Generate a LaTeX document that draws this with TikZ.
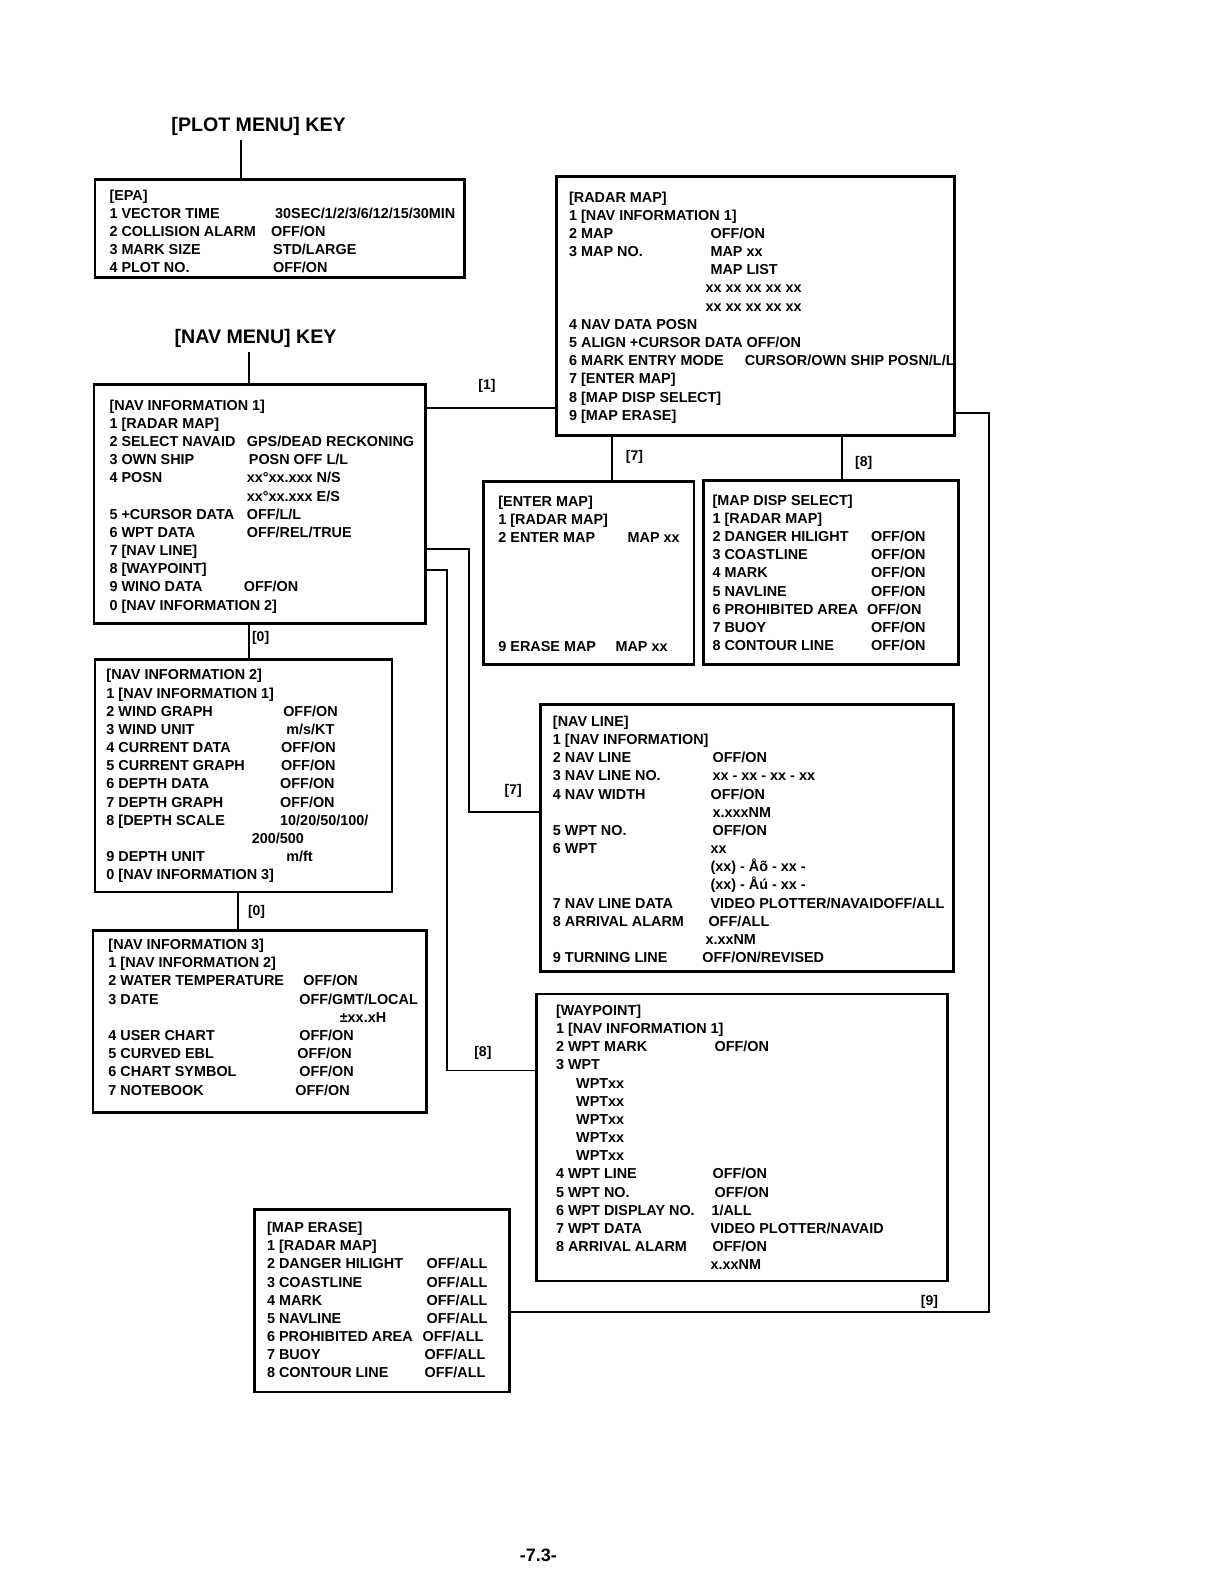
\documentclass[tikz,border=0pt]{standalone}
\usepackage{fontspec}
\setmainfont{Liberation Sans}
\usepackage{tikz}
\usetikzlibrary{positioning,calc,fit}

\newdimen\unitpx
\unitpx=0.505pt
\newlength\valcol
\newcommand\mrow[2]{\makebox[\valcol][l]{#1}#2}

\tikzset{
  menubox/.style={draw=black, line width=1.4pt, inner sep=0pt},
  menutext/.style={anchor=base west, inner sep=0pt,
    font=\bfseries\fontsize{7.2}{9.09}\selectfont},
  keytitle/.style={font=\bfseries\fontsize{9.8}{12}\selectfont, inner sep=2pt},
  link/.style={line width=0.9pt},
  linklabel/.style={font=\bfseries\fontsize{7}{8}\selectfont, inner sep=1pt}
}

\begin{document}
\begin{tikzpicture}[x=0.505pt, y=-0.505pt]
\fill[white] (0,0) rectangle (1212,1568);
\useasboundingbox (0,0) rectangle (1212,1568);

% key titles
\node[keytitle] (plotkey) at (256,125) {[PLOT MENU] KEY};
\node[keytitle] (navkey) at (253,335) {[NAV MENU] KEY};

% menu frames
\node[menubox, fit={(94,178) (460,275)}] (epa) {};
\node[menubox, fit={(93,381) (421,617)}] (nav1) {};
\node[menubox, fit={(551,175) (945,431)}] (radar) {};
\node[menubox, fit={(479,477) (687,658)}] (enter) {};
\node[menubox, fit={(696,476) (949,658)}] (disp) {};
\node[menubox, fit={(94,653) (388,883)}] (nav2) {};
\node[menubox, fit={(92,921) (422,1101)}] (nav3) {};
\node[menubox, fit={(535,697) (944,962)}] (navline) {};
\node[menubox, fit={(531,984) (938,1268)}] (wpt) {};
\node[menubox, fit={(252,1197) (504,1378)}] (erase) {};

% menu contents
\node[menutext] (epa-t) at (108,198) {\setlength\valcol{164\unitpx}%
\begin{tabular}[t]{@{}l@{}}
{[EPA]}\\
\mrow{1 VECTOR TIME}{30SEC/1/2/3/6/12/15/30MIN}\\
\mrow{2 COLLISION ALARM}{\hspace*{-4\unitpx}OFF/ON}\\
\mrow{3 MARK SIZE}{\hspace*{-2\unitpx}STD/LARGE}\\
\mrow{4 PLOT NO.}{\hspace*{-2\unitpx}OFF/ON}
\end{tabular}};

\node[menutext] (nav1-t) at (108,406) {\setlength\valcol{136\unitpx}%
\begin{tabular}[t]{@{}l@{}}
{[NAV INFORMATION 1]}\\
1 [RADAR MAP]\\
\mrow{2 SELECT NAVAID}{GPS/DEAD RECKONING}\\
\mrow{3 OWN SHIP}{\hspace*{2\unitpx}POSN OFF L/L}\\
\mrow{4 POSN}{xx°xx.xxx N/S}\\
\mrow{}{xx°xx.xxx E/S}\\
\mrow{5 +CURSOR DATA}{OFF/L/L}\\
\mrow{6 WPT DATA}{OFF/REL/TRUE}\\
7 [NAV LINE]\\
8 [WAYPOINT]\\
\mrow{9 WINO DATA}{\hspace*{-3\unitpx}OFF/ON}\\
0 [NAV INFORMATION 2]
\end{tabular}};

\node[menutext] (radar-t) at (563,200) {\setlength\valcol{140\unitpx}%
\begin{tabular}[t]{@{}l@{}}
{[RADAR MAP]}\\
1 [NAV INFORMATION 1]\\
\mrow{2 MAP}{OFF/ON}\\
\mrow{3 MAP NO.}{MAP xx}\\
\mrow{}{MAP LIST}\\
\mrow{}{\hspace*{-5\unitpx}xx xx xx xx xx}\\
\mrow{}{\hspace*{-5\unitpx}xx xx xx xx xx}\\
4 NAV DATA POSN\\
5 ALIGN +CURSOR DATA OFF/ON\\
\makebox[174\unitpx][l]{6 MARK ENTRY MODE}CURSOR/OWN SHIP POSN/L/L\\
7 [ENTER MAP]\\
8 [MAP DISP SELECT]\\
9 [MAP ERASE]
\end{tabular}};

\node[menutext] (enter-t) at (493,501) {\setlength\valcol{128\unitpx}%
\begin{tabular}[t]{@{}l@{}}
{[ENTER MAP]}\\
1 [RADAR MAP]\\
\mrow{2 ENTER MAP}{MAP xx}\\
\\
\\
\\
\\
\\
\makebox[116\unitpx][l]{9 ERASE MAP}MAP xx
\end{tabular}};

\node[menutext] (disp-t) at (705,500) {\setlength\valcol{157\unitpx}%
\begin{tabular}[t]{@{}l@{}}
{[MAP DISP SELECT]}\\
1 [RADAR MAP]\\
\mrow{2 DANGER HILIGHT}{OFF/ON}\\
\mrow{3 COASTLINE}{OFF/ON}\\
\mrow{4 MARK}{OFF/ON}\\
\mrow{5 NAVLINE}{OFF/ON}\\
\mrow{6 PROHIBITED AREA}{\hspace*{-4\unitpx}OFF/ON}\\
\mrow{7 BUOY}{OFF/ON}\\
\mrow{8 CONTOUR LINE}{OFF/ON}
\end{tabular}};

\node[menutext] (nav2-t) at (105,673) {\setlength\valcol{175\unitpx}%
\begin{tabular}[t]{@{}l@{}}
{[NAV INFORMATION 2]}\\
1 [NAV INFORMATION 1]\\
\mrow{2 WIND GRAPH}{OFF/ON}\\
\mrow{3 WIND UNIT}{\hspace*{3\unitpx}m/s/KT}\\
\mrow{4 CURRENT DATA}{\hspace*{-2\unitpx}OFF/ON}\\
\mrow{5 CURRENT GRAPH}{\hspace*{-2\unitpx}OFF/ON}\\
\mrow{6 DEPTH DATA}{\hspace*{-3\unitpx}OFF/ON}\\
\mrow{7 DEPTH GRAPH}{\hspace*{-3\unitpx}OFF/ON}\\
\mrow{8 [DEPTH SCALE}{\hspace*{-3\unitpx}10/20/50/100/}\\
\hspace*{144\unitpx}200/500\\
\mrow{9 DEPTH UNIT}{\hspace*{3\unitpx}m/ft}\\
0 [NAV INFORMATION 3]
\end{tabular}};

\node[menutext] (nav3-t) at (107,940) {\setlength\valcol{189\unitpx}%
\begin{tabular}[t]{@{}l@{}}
{[NAV INFORMATION 3]}\\
1 [NAV INFORMATION 2]\\
\mrow{2 WATER TEMPERATURE}{\hspace*{4\unitpx}OFF/ON}\\
\mrow{3 DATE}{OFF/GMT/LOCAL}\\
\hspace*{229\unitpx}±xx.xH\\
\mrow{4 USER CHART}{OFF/ON}\\
\mrow{5 CURVED EBL}{\hspace*{-2\unitpx}OFF/ON}\\
\mrow{6 CHART SYMBOL}{OFF/ON}\\
\mrow{7 NOTEBOOK}{\hspace*{-4\unitpx}OFF/ON}
\end{tabular}};

\node[menutext] (navline-t) at (547,719) {\setlength\valcol{158\unitpx}%
\begin{tabular}[t]{@{}l@{}}
{[NAV LINE]}\\
1 [NAV INFORMATION]\\
\mrow{2 NAV LINE}{OFF/ON}\\
\mrow{3 NAV LINE NO.}{xx - xx - xx - xx}\\
\mrow{4 NAV WIDTH}{\hspace*{-2\unitpx}OFF/ON}\\
\mrow{}{x.xxxNM}\\
\mrow{5 WPT NO.}{OFF/ON}\\
\mrow{6 WPT}{\hspace*{-2\unitpx}xx}\\
\mrow{}{\hspace*{-2\unitpx}(xx) - Åõ - xx -}\\
\mrow{}{\hspace*{-2\unitpx}(xx) - Åú - xx -}\\
\mrow{7 NAV LINE DATA}{\hspace*{-2\unitpx}VIDEO PLOTTER/NAVAIDOFF/ALL}\\
\mrow{8 ARRIVAL ALARM}{\hspace*{-4\unitpx}OFF/ALL}\\
\mrow{}{\hspace*{-7\unitpx}x.xxNM}\\
\mrow{9 TURNING LINE}{\hspace*{-10\unitpx}OFF/ON/REVISED}
\end{tabular}};

\node[menutext] (wpt-t) at (550,1005) {\setlength\valcol{155\unitpx}%
\begin{tabular}[t]{@{}l@{}}
{[WAYPOINT]}\\
1 [NAV INFORMATION 1]\\
\mrow{2 WPT MARK}{\hspace*{2\unitpx}OFF/ON}\\
3 WPT\\
\hspace*{20\unitpx}WPTxx\\
\hspace*{20\unitpx}WPTxx\\
\hspace*{20\unitpx}WPTxx\\
\hspace*{20\unitpx}WPTxx\\
\hspace*{20\unitpx}WPTxx\\
\mrow{4 WPT LINE}{OFF/ON}\\
\mrow{5 WPT NO.}{\hspace*{2\unitpx}OFF/ON}\\
\mrow{6 WPT DISPLAY NO.}{\hspace*{-1\unitpx}1/ALL}\\
\mrow{7 WPT DATA}{\hspace*{-2\unitpx}VIDEO PLOTTER/NAVAID}\\
\mrow{8 ARRIVAL ALARM}{OFF/ON}\\
\mrow{}{\hspace*{-2\unitpx}x.xxNM}
\end{tabular}};

\node[menutext] (erase-t) at (264,1220) {\setlength\valcol{158\unitpx}%
\begin{tabular}[t]{@{}l@{}}
{[MAP ERASE]}\\
1 [RADAR MAP]\\
\mrow{2 DANGER HILIGHT}{OFF/ALL}\\
\mrow{3 COASTLINE}{OFF/ALL}\\
\mrow{4 MARK}{OFF/ALL}\\
\mrow{5 NAVLINE}{OFF/ALL}\\
\mrow{6 PROHIBITED AREA}{\hspace*{-4\unitpx}OFF/ALL}\\
\mrow{7 BUOY}{\hspace*{-2\unitpx}OFF/ALL}\\
\mrow{8 CONTOUR LINE}{\hspace*{-2\unitpx}OFF/ALL}
\end{tabular}};

% key lines
\coordinate (pk) at ($(epa.north west)+(146,0)$);
\draw[link] (pk) -- (pk |- plotkey.south);
\coordinate (nk) at ($(nav1.north west)+(155,0)$);
\draw[link] (nk) -- (nk |- navkey.south);

% [1]
\coordinate (c1) at ($(nav1.north east)+(0,24)$);
\draw[link] (c1) -- (c1 -| radar.west);
\node[linklabel] (l1) at (482,382) {[1]};

% [7] and [8] below radar map
\coordinate (c7) at ($(radar.south west)+(56,0)$);
\draw[link] (c7) -- (c7 |- enter.north);
\node[linklabel] (l7) at (628,452) {[7]};
\coordinate (c8) at ($(radar.south west)+(284,0)$);
\draw[link] (c8) -- (c8 |- disp.north);
\node[linklabel] (l8) at (855,458) {[8]};

% [9] round to map erase
\coordinate (c9) at ($(radar.north east)+(0,235)$);
\coordinate (c9e) at ($(erase.north east)+(0,103)$);
\draw[link] (c9) -- ++(33,0) |- (c9e);
\node[linklabel] (l9) at (920,1289) {[9]};

% [0] chain
\coordinate (c0a) at ($(nav1.south west)+(155,0)$);
\draw[link] (c0a) -- (c0a |- nav2.north);
\node[linklabel] (l0a) at (258,631) {[0]};
\coordinate (c0b) at ($(nav2.south west)+(143,0)$);
\draw[link] (c0b) -- (c0b |- nav3.north);
\node[linklabel] (l0b) at (254,903) {[0]};

% [7] nav line, [8] waypoint
\coordinate (c7n) at ($(nav1.north east)+(0,164)$);
\coordinate (c7e) at ($(navline.north west)+(0,108)$);
\draw[link] (c7n) -- ++(42,0) |- (c7e);
\node[linklabel] (l7n) at (508,783) {[7]};
\coordinate (c8n) at ($(nav1.north east)+(0,185)$);
\coordinate (c8e) at ($(wpt.north west)+(0,77)$);
\draw[link] (c8n) -- ++(20,0) |- (c8e);
\node[linklabel] (l8n) at (478,1042) {[8]};

\node[font=\bfseries\fontsize{9}{11}\selectfont] (pageno) at (533,1540) {-7.3-};
\end{tikzpicture}
\end{document}
